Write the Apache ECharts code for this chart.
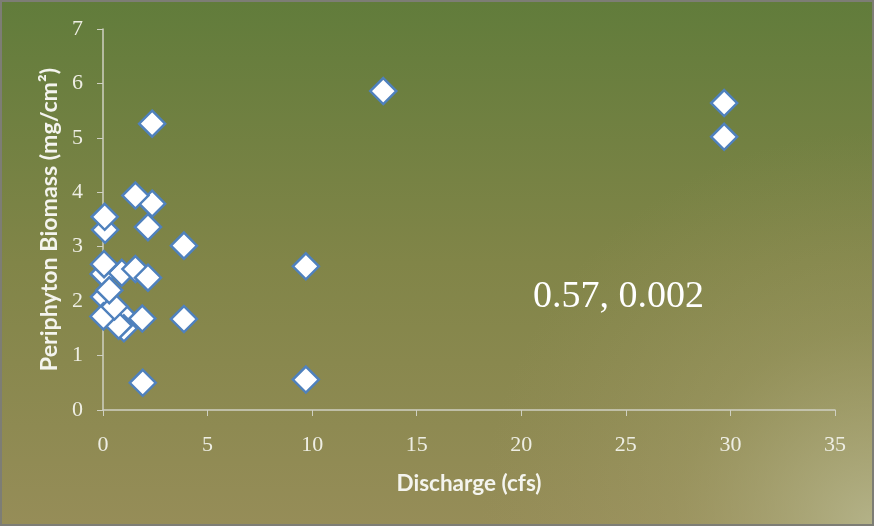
<!DOCTYPE html>
<html>
<head>
<meta charset="utf-8">
<script src="https://cdn.jsdelivr.net/npm/echarts@6/dist/echarts.min.js"></script>
<style>html,body{margin:0;padding:0;}#c{width:874px;height:526px;}</style>
</head>
<body>
<div id="c"></div>
<script>
// Discharge (cfs)
const discharge = [0.03, 0.9, 0.05, 1.0, 0.95, 0.75, 0.02, 0.55, 0.3, 0.05, 0.1, 0.08, 1.55, 2.15, 1.88, 3.87, 1.9, 9.7, 9.7, 3.87, 2.15, 2.35, 1.55, 2.35, 13.4, 29.7, 29.7];
// Periphyton Biomass (mg/cm²)
const biomass   = [2.50, 2.52, 2.68, 1.50, 1.74, 1.55, 1.72, 1.90, 2.20, 2.08, 3.31, 3.55, 2.59, 2.43, 1.68, 1.67, 0.50, 0.56, 2.64, 3.02, 3.36, 3.79, 3.94, 5.26, 5.86, 5.64, 5.02];
// draw order for the overlapping cluster
const order = [0,1,2,4,3,5,9,6,7,8,10,11,12,13,14,15,16,17,18,19,20,21,22,23,24,25,26];
const xTicks = [0, 5, 10, 15, 20, 25, 30, 35];
const yTicks = [0, 1, 2, 3, 4, 5, 6, 7];
const statText = '0.57, 0.002';

const points = order.map(i => [discharge[i], biomass[i]]);

const chart = echarts.init(document.getElementById('c'));
const axisCol = '#cfd0c2';
const labCol = '#eeeee4';
chart.setOption({
  animation: false,
  grid: {left: 103, right: 39, top: 29, bottom: 116},
  xAxis: {
    type: 'value', min: xTicks[0], max: xTicks[xTicks.length-1], interval: 5,
    name: 'Discharge (cfs)', nameLocation: 'middle', nameGap: 62,
    nameTextStyle: {color: '#f4f4ee', fontFamily: 'Lato', fontWeight: 'bold', fontSize: 22.5},
    axisLine: {lineStyle: {color: axisCol, width: 1.5}},
    axisTick: {show: true, length: 6, lineStyle: {color: axisCol}},
    axisLabel: {color: labCol, fontFamily: 'Liberation Serif', fontSize: 22, margin: 24},
    splitLine: {show: false}
  },
  yAxis: {
    type: 'value', min: yTicks[0], max: yTicks[yTicks.length-1], interval: 1,
    name: 'Periphyton Biomass (mg/cm²)', nameLocation: 'middle', nameGap: 40,
    nameTextStyle: {color: '#f4f4ee', fontFamily: 'Lato', fontWeight: 'bold', fontSize: 23.2},
    axisLine: {show: true, lineStyle: {color: axisCol, width: 1.5}},
    axisTick: {show: true, length: 6, lineStyle: {color: axisCol}},
    axisLabel: {color: labCol, fontFamily: 'Liberation Serif', fontSize: 22, margin: 20},
    splitLine: {show: false}
  },
  series: [{
    type: 'scatter',
    symbol: 'diamond',
    symbolSize: [26, 26],
    itemStyle: {color: '#ffffff', borderColor: '#4f81bd', borderWidth: 2.5, opacity: 1},
    data: points
  }],
  graphic: [
    {type: 'rect', z: -10, silent: true, shape: {x: 0, y: 0, width: 874, height: 526},
     style: {fill: new echarts.graphic.LinearGradient(0, 0, 0, 1, [
       {offset: 0, color: '#617c3b'},
       {offset: 0.5, color: '#818548'},
       {offset: 1, color: '#968d58'}
     ])}},
    {type: 'rect', z: -9, silent: true, shape: {x: 0, y: 0, width: 874, height: 526},
     style: {fill: new echarts.graphic.RadialGradient(1, 1, 0.75, [
       {offset: 0, color: 'rgba(185,185,145,0.85)'},
       {offset: 0.5, color: 'rgba(170,165,115,0.3)'},
       {offset: 1, color: 'rgba(160,150,100,0)'}
     ])}},
    {type: 'text', left: 533, top: 278, style: {text: statText, fill: '#ffffff', font: '38px "Liberation Serif"'}},
    {type: 'rect', shape: {x: 1, y: 1, width: 872, height: 524}, style: {fill: 'none', stroke: '#7d7d75', lineWidth: 2}}
  ]
});
</script>
</body>
</html>
